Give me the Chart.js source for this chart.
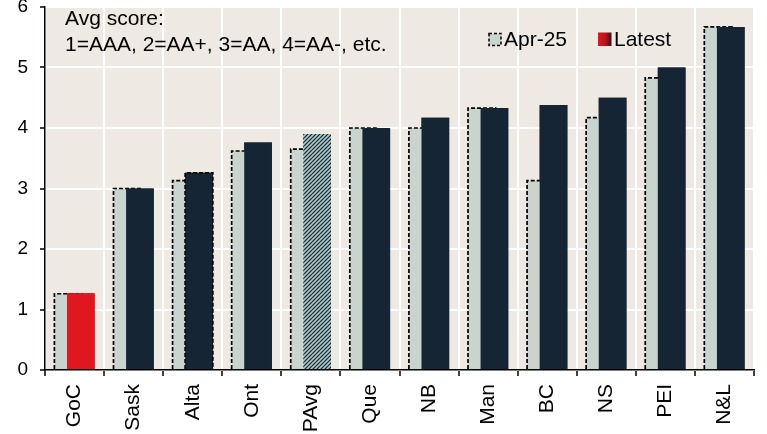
<!DOCTYPE html>
<html>
<head>
<meta charset="utf-8">
<script src="https://cdn.jsdelivr.net/npm/chart.js@4/dist/chart.umd.min.js"></script>
<style>
  html, body { margin: 0; padding: 0; background: #ffffff; }
  #wrap { width: 767px; height: 434px; }
</style>
</head>
<body>
<div id="wrap"><canvas id="chart" width="767" height="434"></canvas></div>
<script>
// Average credit rating score by jurisdiction
const categories = ['GoC', 'Sask', 'Alta', 'Ont', 'PAvg', 'Que', 'NB', 'Man', 'BC', 'NS', 'PEI', 'N&L'];
const apr25  = [1.26, 3.00, 3.13, 3.62, 3.65, 4.00, 4.00, 4.33, 3.13, 4.17, 4.83, 5.67];
const latest = [1.27, 3.00, 3.26, 3.76, 3.90, 4.00, 4.17, 4.33, 4.38, 4.50, 5.00, 5.67];
const yTicks = [0, 1, 2, 3, 4, 5, 6];
const seriesNames = ['Apr-25', 'Latest'];
const noteLines = ['Avg score:', '1=AAA, 2=AA+, 3=AA, 4=AA-, etc.'];

const FONT = '"Liberation Sans", Arial, sans-serif';
const NAVY = '#162533';
const PALE = '#c9d4ce';
const RED = '#e0171f';
const PLOT_BG = '#efe9e3';

// diagonal hatch used for the provincial average
function makeHatch() {
  const t = document.createElement('canvas');
  t.width = 4; t.height = 4;
  const g = t.getContext('2d');
  g.fillStyle = NAVY;
  g.fillRect(0, 0, 4, 4);
  g.strokeStyle = '#aecac5';
  g.lineWidth = 1.6;
  g.beginPath();
  g.moveTo(-1, 5); g.lineTo(5, -1);
  g.moveTo(-1, 1); g.lineTo(1, -1);
  g.moveTo(3, 5); g.lineTo(5, 3);
  g.stroke();
  return g.createPattern(t, 'repeat');
}
const hatch = makeHatch();

const latestColors = categories.map(c => c === 'GoC' ? RED : (c === 'PAvg' ? hatch : NAVY));
const dashedLatest = ['Alta'];

function dashedOutline(ctx, el) {
  const p = el.getProps(['x', 'y', 'base', 'width'], true);
  const l = p.x - p.width / 2, r = p.x + p.width / 2;
  ctx.beginPath();
  ctx.moveTo(l, p.base);
  ctx.lineTo(l, p.y);
  ctx.lineTo(r, p.y);
  ctx.lineTo(r, p.base);
  ctx.stroke();
}

const plotPlugin = {
  id: 'plotDecor',
  beforeDraw(chart) {
    const { ctx, chartArea: a } = chart;
    ctx.save();
    ctx.fillStyle = PLOT_BG;
    ctx.fillRect(a.left, a.top, a.right - a.left, a.bottom - a.top);
    ctx.restore();
  },
  afterDatasetDraw(chart, args) {
    if (args.index !== 0) return;
    const ctx = chart.ctx;
    ctx.save();
    ctx.strokeStyle = '#000';
    ctx.lineWidth = 1.7;
    ctx.setLineDash([4, 2]);
    chart.getDatasetMeta(0).data.forEach(el => dashedOutline(ctx, el));
    ctx.restore();
  },
  afterDatasetsDraw(chart) {
    // latest values sit in front of the April bars
    const meta = chart.getDatasetMeta(1);
    meta.controller.draw();
    const ctx = chart.ctx;
    ctx.save();
    ctx.strokeStyle = '#000';
    ctx.lineWidth = 1.7;
    ctx.setLineDash([4, 2]);
    categories.forEach((c, i) => {
      if (dashedLatest.includes(c)) dashedOutline(ctx, meta.data[i]);
    });
    ctx.restore();
  },
  afterDraw(chart) {
    const ctx = chart.ctx;
    ctx.save();
    ctx.fillStyle = '#000';
    ctx.font = '21px ' + FONT;
    ctx.textBaseline = 'alphabetic';
    ctx.textAlign = 'left';
    ctx.fillText(noteLines[0], 65, 25);
    ctx.fillText(noteLines[1], 65, 51);

    // legend
    ctx.fillStyle = PALE;
    ctx.fillRect(489, 33.5, 12, 12);
    ctx.strokeStyle = '#000';
    ctx.lineWidth = 1.5;
    ctx.setLineDash([3, 2]);
    ctx.strokeRect(489, 33.5, 12, 12);
    ctx.setLineDash([]);
    ctx.fillStyle = '#000';
    ctx.fillText(seriesNames[0], 504, 46);

    const grad = ctx.createLinearGradient(598, 0, 612, 0);
    grad.addColorStop(0, RED);
    grad.addColorStop(0.55, '#b5141c');
    grad.addColorStop(1, '#2a1018');
    ctx.fillStyle = grad;
    ctx.fillRect(598, 32.5, 13.5, 13.5);
    ctx.fillStyle = '#000';
    ctx.fillText(seriesNames[1], 614, 46);
    ctx.restore();
  }
};

new Chart(document.getElementById('chart'), {
  type: 'bar',
  data: {
    labels: categories,
    datasets: [
      {
        label: seriesNames[0],
        data: apr25,
        backgroundColor: PALE,
        borderWidth: 0,
        categoryPercentage: 0.426,
        barPercentage: 2.2
      },
      {
        label: seriesNames[1],
        data: latest,
        backgroundColor: latestColors,
        borderWidth: 0,
        categoryPercentage: 0.426,
        barPercentage: 2.2
      }
    ]
  },
  options: {
    responsive: false,
    devicePixelRatio: 1,
    animation: false,
    layout: { padding: { top: 7, right: 13, left: 0, bottom: 0 } },
    plugins: {
      legend: { display: false },
      tooltip: { enabled: false }
    },
    scales: {
      x: {
        offset: true,
        grid: {
          offset: true,
          color: '#ffffff',
          lineWidth: 2,
          drawTicks: true,
          tickColor: '#000000',
          tickLength: 6,
          tickWidth: 1.5
        },
        border: { display: true, color: '#000000', width: 1.5, z: 1 },
        ticks: {
          color: '#000000',
          font: { family: FONT, size: 21 },
          minRotation: 90,
          maxRotation: 90,
          padding: 8,
          autoSkip: false
        },
        afterFit(scale) { scale.height = 64; scale.paddingLeft = 0; scale.paddingRight = 0; }
      },
      y: {
        min: 0,
        max: 6,
        afterBuildTicks(scale) { scale.ticks = yTicks.map(v => ({ value: v })); },
        grid: {
          color: '#ffffff',
          lineWidth: 2,
          drawTicks: true,
          tickColor: '#000000',
          tickLength: 5,
          tickWidth: 1.5
        },
        border: { display: true, color: '#000000', width: 1.5, z: 1 },
        ticks: {
          color: '#000000',
          font: { family: FONT, size: 19 },
          padding: 12
        },
        afterFit(scale) { scale.width = 45; scale.paddingTop = 0; scale.paddingBottom = 0; }
      }
    }
  },
  plugins: [plotPlugin]
});
</script>
</body>
</html>
